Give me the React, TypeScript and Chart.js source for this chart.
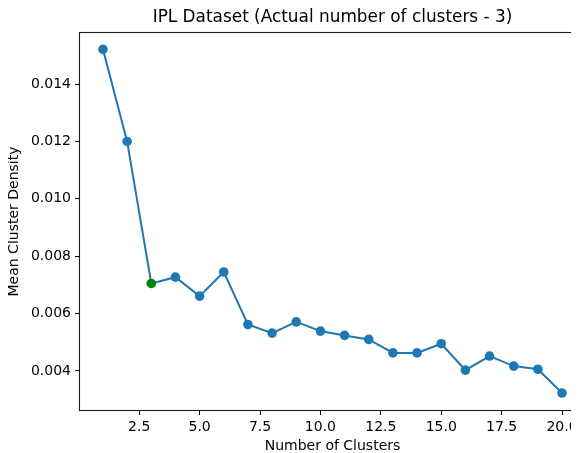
import React, { useEffect, useRef } from "react";
import { Chart, registerables } from "chart.js";

Chart.register(...registerables);

const clusters = [1, 2, 3, 4, 5, 6, 7, 8, 9, 10, 11, 12, 13, 14, 15, 16, 17, 18, 19, 20];
const density = [
  0.01521, 0.01200, 0.00705, 0.00727, 0.00661, 0.00745, 0.00562, 0.00532, 0.00571, 0.00539,
  0.00524, 0.00510, 0.00463, 0.00463, 0.00495, 0.00403, 0.00452, 0.00417, 0.00406, 0.00323,
];
const actualClusters = 3;
const xTicks = [2.5, 5.0, 7.5, 10.0, 12.5, 15.0, 17.5, 20.0];
const yTicks = [0.004, 0.006, 0.008, 0.010, 0.012, 0.014];

const titleText = "IPL Dataset (Actual number of clusters - 3)";
const xTitle = "Number of Clusters";
const yTitle = "Mean Cluster Density";

const FONT = "'DejaVu Sans', sans-serif";
const BLUE = "#1f77b4";
const GREEN = "#008000";

export default function App() {
  const ref = useRef<HTMLCanvasElement | null>(null);

  useEffect(() => {
    const canvas = ref.current;
    if (!canvas) return;

    const textPlugin = {
      id: "mplText",
      afterDraw(chart: any) {
        const ctx = chart.ctx;
        const { left, right, top, bottom } = chart.chartArea;
        ctx.save();
        ctx.strokeStyle = "#1a1a1a";
        ctx.lineWidth = 1.1;
        ctx.strokeRect(left - 0.5, top - 0.5, right - left + 1, bottom - top + 1);
        ctx.fillStyle = "#000";
        ctx.textAlign = "center";
        ctx.textBaseline = "middle";
        ctx.font = `16.9px ${FONT}`;
        ctx.fillText(titleText, (left + right) / 2, 10);
        ctx.font = `14px ${FONT}`;
        ctx.fillText(xTitle, (left + right) / 2, 438);
        ctx.translate(6, (top + bottom) / 2);
        ctx.rotate(-Math.PI / 2);
        ctx.fillText(yTitle, 0, 0);
        ctx.restore();
      },
    };

    const chart = new Chart(canvas, {
      type: "scatter",
      data: {
        datasets: [
          {
            data: clusters.map((c, i) => ({ x: c, y: density[i] })),
            showLine: true,
            borderColor: BLUE,
            borderWidth: 2,
            backgroundColor: BLUE,
            pointBackgroundColor: clusters.map((c) => (c === actualClusters ? GREEN : BLUE)),
            pointBorderColor: clusters.map((c) => (c === actualClusters ? GREEN : BLUE)),
            pointBorderWidth: 0,
            pointRadius: 4.8,
            pointHoverRadius: 4.8,
            tension: 0,
          },
        ],
      },
      options: {
        responsive: false,
        animation: false,
        events: [],
        layout: { padding: { top: 25, right: 13, left: 0, bottom: 0 } },
        plugins: {
          legend: { display: false },
          title: { display: false },
          tooltip: { enabled: false },
        },
        scales: {
          x: {
            type: "linear",
            min: 0.05,
            max: 20.95,
            afterBuildTicks: (axis: any) => {
              axis.ticks = xTicks.map((v) => ({ value: v }));
            },
            afterFit: (s: any) => {
              s.height = 43;
            },
            border: { display: false },
            grid: { drawOnChartArea: false, drawTicks: true, tickLength: 5, color: "#000", lineWidth: 1 },
            ticks: {
              padding: 4,
              color: "#000",
              maxRotation: 0,
              autoSkip: false,
              font: { family: FONT, size: 14 },
              callback: (v: any) => Number(v).toFixed(1),
            },
          },
          y: {
            type: "linear",
            min: 0.00264,
            max: 0.01578,
            afterBuildTicks: (axis: any) => {
              axis.ticks = yTicks.map((v) => ({ value: v }));
            },
            afterFit: (s: any) => {
              s.width = 72;
            },
            border: { display: false },
            grid: { drawOnChartArea: false, drawTicks: true, tickLength: 5, color: "#000", lineWidth: 1 },
            ticks: {
              padding: 4,
              color: "#000",
              autoSkip: false,
              font: { family: FONT, size: 14 },
              callback: (v: any) => Number(v).toFixed(3),
            },
          },
        },
      },
      plugins: [textPlugin],
    });

    return () => chart.destroy();
  }, []);

  return (
    <div style={{ width: 571, height: 445, overflow: "hidden" }}>
      <canvas ref={ref} width={590} height={445} style={{ display: "block", width: 590, height: 445 }} />
    </div>
  );
}
